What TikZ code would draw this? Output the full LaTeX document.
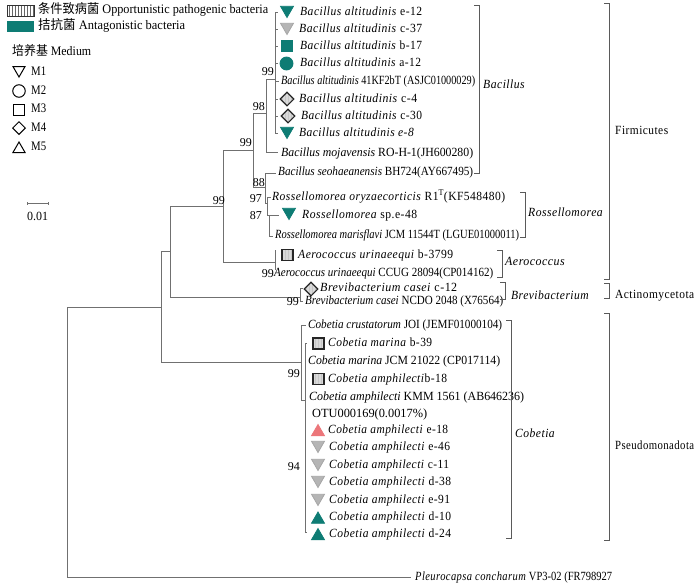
\documentclass[tikz,border=0pt]{standalone}
\usepackage{fontspec}
\setmainfont{Liberation Serif}
\newfontfamily\spc[LetterSpace=4]{Liberation Serif}
\newfontfamily\cjk{Noto Sans CJK SC}
\usepackage{graphicx}
\usetikzlibrary{shapes.geometric,patterns}
\definecolor{tealc}{RGB}{14,124,116}
\definecolor{pinkc}{RGB}{236,118,122}
\definecolor{linec}{RGB}{112,112,112}
\definecolor{brkc}{RGB}{90,90,90}
\newcommand\lsp[2]{\resizebox{#1pt}{\height}{\spc #2}}
\newcommand\lcd[2]{\resizebox{#1pt}{\height}{#2}}
\begin{document}
\begin{tikzpicture}[x=1pt,y=-1pt,
  edge/.style={draw=linec,line width=0.9pt},
  brk/.style={draw=brkc,line width=0.9pt},
  lab/.style={anchor=west,inner sep=0pt,text height=9pt,text depth=2.6pt,font=\fontsize{12.5}{14}\selectfont},
  leg/.style={lab,font=\fontsize{13}{15}\selectfont},
  boot/.style={anchor=east,inner sep=0pt,text height=8.5pt,text depth=0pt,font=\fontsize{12}{14}\selectfont},
  mk/.style={inner sep=0pt,line width=0.8pt},
  tridown/.style={mk,regular polygon,regular polygon sides=3,shape border rotate=180,minimum size=15pt},
  triup/.style={mk,regular polygon,regular polygon sides=3,minimum size=15pt},
  sq/.style={mk,rectangle,minimum size=11pt},
  circ/.style={mk,circle,minimum size=13pt},
  dia/.style={mk,diamond,minimum size=14pt},
  antag/.style={fill=tealc,draw=tealc},
  oppo/.style={draw=black!85,line width=1.1pt,preaction={fill=gray!30},pattern=vertical lines,pattern color=gray!45},
  hatchgray/.style={fill=gray!58,draw=gray!70},
  pinkf/.style={fill=pinkc,draw=pinkc},
  open/.style={draw=black,line width=1pt,fill=white}]
\useasboundingbox (0,0) rectangle (700,584);
\fill[white] (0,0) rectangle (700,584);

% ---------- legend ----------
\node[draw=black!80,line width=0.8pt,pattern=vertical lines,pattern color=black!60,minimum width=27pt,minimum height=11pt,inner sep=0pt] (lg1) at (20.5,10.5) {};
\node[leg] (lt1) at (38,10.5) {\lcd{230}{{\cjk 条件致病菌} Opportunistic pathogenic bacteria}};
\node[fill=tealc,minimum width=27pt,minimum height=11pt,inner sep=0pt] (lg2) at (20.5,26.5) {};
\node[leg] (lt2) at (38,26.5) {\lcd{147}{{\cjk 拮抗菌} Antagonistic bacteria}};
\node[leg] (lt3) at (12,52) {\lcd{79}{{\cjk 培养基} Medium}};
\node[tridown,open,minimum size=14pt] (s1) at (19,70) {};
\node[leg] (sm1) at (31,72) {\lcd{15}{M1}};
\node[circ,open,minimum size=12.5pt] (s2) at (19,91) {};
\node[leg] (sm2) at (31,91) {\lcd{15}{M2}};
\node[sq,open,minimum size=11pt] (s3) at (19,109.5) {};
\node[leg] (sm3) at (31,109.5) {\lcd{15}{M3}};
\node[dia,open,minimum size=13pt] (s4) at (19,128) {};
\node[leg] (sm4) at (31,128) {\lcd{15}{M4}};
\node[triup,open,minimum size=14pt] (s5) at (19,149) {};
\node[leg] (sm5) at (31,147) {\lcd{15}{M5}};

% ---------- scale bar ----------
\coordinate (sb1) at (27,203);
\coordinate (sb2) at (48,203);
\draw[edge,line width=0.7pt] (sb1) -- (sb2);
\draw[edge,line width=0.6pt] ([yshift=-1.5pt]sb1) -- ([yshift=1.5pt]sb1);
\draw[edge,line width=0.6pt] ([yshift=-1.5pt]sb2) -- ([yshift=1.5pt]sb2);
\node[lab,anchor=center] (sbl) at (37.5,217) {\lcd{21}{0.01}};

% ---------- internal nodes ----------
\coordinate (r) at (67,307);
\coordinate (nD) at (161,307);
\coordinate (nC) at (170,251);
\coordinate (nA) at (223,206);
\coordinate (nB) at (253,150);
\coordinate (n98) at (266,113);
\coordinate (n99b) at (275,79);
\coordinate (n88) at (265,187);
\coordinate (n97) at (267,203);
\coordinate (n87) at (269,215);
\coordinate (nAe) at (275,262);
\coordinate (nBr) at (300,297);
\coordinate (nCob) at (301,362);
\coordinate (n94) at (305,400);

% ---------- tips ----------
\coordinate (t1) at (278,12);
\coordinate (t2) at (278,29);
\coordinate (t3) at (278,46);
\coordinate (t4) at (278,63);
\coordinate (t5) at (279,81);
\coordinate (t6) at (278,99);
\coordinate (t7) at (278,116);
\coordinate (t8) at (278,133);
\coordinate (tm) at (278,152);
\coordinate (ts) at (276,173);
\coordinate (to) at (271,197);
\coordinate (te) at (279,215);
\coordinate (tmf) at (273,236);
\coordinate (ta1) at (275,250);
\coordinate (ta2) at (275,270);
\coordinate (tb1) at (303,288);
\coordinate (tb2) at (303,301);
\coordinate (tc1) at (306,325);
\coordinate (tc2) at (307,343);
\coordinate (tc3) at (307,532);
\coordinate (tp) at (411,577);

% ---------- branches ----------
\draw[edge] (r) -- (nD);
\draw[edge] (r) |- (tp);
\draw[edge] (nD) |- (nC);
\draw[edge] (nD) |- (nCob);
\draw[edge] (nC) |- (nA);
\draw[edge] (nC) |- (nBr);
\draw[edge] (nA) |- (nB);
\draw[edge] (nA) |- (nAe);
\draw[edge] (nB) |- (n98);
\draw[edge] (nB) |- (n88);
\draw[edge] (n98) |- (n99b);
\draw[edge] (n98) |- (tm);
\foreach \t in {t1,t2,t3,t4,t5,t6,t7,t8} \draw[edge] (n99b) |- (\t);
\draw[edge] (n88) |- (ts);
\draw[edge] (n88) |- (n97);
\draw[edge] (n97) |- (to);
\draw[edge] (n97) |- (n87);
\draw[edge] (n87) |- (te);
\draw[edge] (n87) |- (tmf);
\draw[edge] (nAe) |- (ta1);
\draw[edge] (nAe) |- (ta2);
\draw[edge] (nBr) |- (tb1);
\draw[edge] (nBr) |- (tb2);
\draw[edge] (nCob) |- (tc1);
\draw[edge] (nCob) |- (n94);
\draw[edge] (n94) |- (tc2);
\draw[edge] (n94) |- (tc3);

% ---------- bootstrap values ----------
\node[boot] (b1) at (274,71) {99};
\node[boot] (b2) at (265,106) {98};
\node[boot] (b3) at (252,142) {99};
\node[boot] (b4) at (265,182) {88};
\node[boot] (b5) at (262,198) {97};
\node[boot] (b6) at (262,215) {87};
\node[boot] (b7) at (225,200) {99};
\node[boot] (b8) at (274,273) {99};
\node[boot] (b9) at (299,301) {99};
\node[boot] (b10) at (300,373) {99};
\node[boot] (b11) at (300,466) {94};

% ---------- Bacillus leaves ----------
\node[tridown,antag] (m1) at (287,10) {};
\node[lab] (l1) at (300,12) {\lsp{122}{\textit{Bacillus altitudinis} e-12}};
\node[tridown,hatchgray] (m2) at (287,27) {};
\node[lab] (l2) at (299,29) {\lsp{123}{\textit{Bacillus altitudinis} c-37}};
\node[sq,antag] (m3) at (286.5,45.5) {};
\node[lab] (l3) at (300,46) {\lsp{122}{\textit{Bacillus altitudinis} b-17}};
\node[circ,antag] (m4) at (286.5,63.5) {};
\node[lab] (l4) at (300,63) {\lsp{121}{\textit{Bacillus altitudinis} a-12}};
\node[lab] (l5) at (281,81) {\lcd{194}{\textit{Bacillus altitudinis} 41KF2bT (ASJC01000029)}};
\node[dia,oppo] (m6) at (287,99) {};
\node[lab] (l6) at (299,99) {\lsp{118}{\textit{Bacillus altitudinis} c-4}};
\node[dia,oppo] (m7) at (288,116) {};
\node[lab] (l7) at (301,116) {\lsp{121}{\textit{Bacillus altitudinis} c-30}};
\node[tridown,antag] (m8) at (287,131) {};
\node[lab] (l8) at (299,133) {\lsp{115}{\textit{Bacillus altitudinis e-8}}};
\node[lab] (l9) at (281,153) {\lcd{192}{\textit{Bacillus mojavensis} RO-H-1(JH600280)}};
\node[lab] (l10) at (278,172) {\lcd{195}{\textit{Bacillus seohaeanensis} BH724(AY667495)}};

% ---------- Rossellomorea / Aerococcus / Brevibacterium ----------
\node[lab] (l11) at (272,197) {\lsp{233}{\textit{Rossellomorea oryzaecorticis} R1\textsuperscript{T}(KF548480)}};
\node[tridown,antag] (m12) at (289,212) {};
\node[lab] (l12) at (302,215) {\lsp{115}{\textit{Rossellomorea} sp.e-48}};
\node[lab] (l13) at (275,235) {\lcd{244}{\textit{Rossellomorea marisflavi} JCM 11544T (LGUE01000011)}};
\node[sq,oppo] (m14) at (287.5,255) {};
\node[lab] (l14) at (298,255) {\lsp{155}{\textit{Aerococcus urinaeequi} b-3799}};
\node[lab] (l15) at (274,273) {\lcd{219}{\textit{Aerococcus urinaeequi} CCUG 28094(CP014162)}};
\node[dia,oppo] (m16) at (311,289) {};
\node[lab] (l16) at (320,288) {\lsp{137}{\textit{Brevibacterium casei} c-12}};
\node[lab] (l17) at (305,301) {\lcd{198}{\textit{Brevibacterium casei} NCDO 2048 (X76564)}};

% ---------- Cobetia ----------
\node[lab] (l18) at (308,325) {\lcd{194}{\textit{Cobetia crustatorum} JOI (JEMF01000104)}};
\node[sq,oppo] (m19) at (318.5,343.5) {};
\node[lab] (l19) at (328,343) {\lsp{104}{\textit{Cobetia marina} b-39}};
\node[lab] (l20) at (308,361) {\lcd{192}{\textit{Cobetia marina} JCM 21022 (CP017114)}};
\node[sq,oppo] (m21) at (318.5,379) {};
\node[lab] (l21) at (328,379) {\lsp{119}{\textit{Cobetia amphilecti}b-18}};
\node[lab] (l22) at (309,397) {\lcd{215}{\textit{Cobetia amphilecti} KMM 1561 (AB646236)}};
\node[lab] (l23) at (312,414) {\lcd{115}{OTU000169(0.0017\%)}};
\node[triup,pinkf] (m24) at (318,432) {};
\node[lab] (l24) at (328,430) {\lsp{120}{\textit{Cobetia amphilecti} e-18}};
\node[tridown,hatchgray] (m25) at (318,445) {};
\node[lab] (l25) at (329,447) {\lsp{121}{\textit{Cobetia amphilecti} e-46}};
\node[tridown,hatchgray] (m26) at (318,463) {};
\node[lab] (l26) at (329,465) {\lsp{120}{\textit{Cobetia amphilecti} c-11}};
\node[tridown,hatchgray] (m27) at (318,480) {};
\node[lab] (l27) at (329,482) {\lsp{122}{\textit{Cobetia amphilecti} d-38}};
\node[tridown,hatchgray] (m28) at (318,498) {};
\node[lab] (l28) at (329,500) {\lsp{121}{\textit{Cobetia amphilecti} e-91}};
\node[triup,antag] (m29) at (318,519.5) {};
\node[lab] (l29) at (329,517) {\lsp{122}{\textit{Cobetia amphilecti} d-10}};
\node[triup,antag] (m30) at (318,536) {};
\node[lab] (l30) at (329,534) {\lsp{122}{\textit{Cobetia amphilecti} d-24}};

% ---------- outgroup ----------
\node[lab] (l31) at (415,577) {\lcd{197}{{\spc\textit{Pleurocapsa concharum}} VP3-02 (FR798927}};

% ---------- brackets ----------
\draw[brk] (474,5) -- (479,5) -- (479,173) -- (474,173);
\draw[brk] (520,192) -- (525,192) -- (525,237) -- (520,237);
\draw[brk] (497,250) -- (502,250) -- (502,277) -- (497,277);
\draw[brk] (500,282) -- (505,282) -- (505,299) -- (500,299);
\draw[brk] (506,320) -- (511,320) -- (511,538) -- (506,538);
\draw[brk] (604,3) -- (609,3) -- (609,279) -- (604,279);
\draw[brk] (604,283) -- (609,283) -- (609,298) -- (604,298);
\draw[brk] (604,313) -- (609,313) -- (609,540) -- (604,540);

\node[lab] (g1) at (483,85) {\lsp{42}{\textit{Bacillus}}};
\node[lab] (g2) at (528,213) {\lsp{75}{\textit{Rossellomorea}}};
\node[lab] (g3) at (505,262) {\lsp{60}{\textit{Aerococcus}}};
\node[lab] (g4) at (511,296) {\lsp{78}{\textit{Brevibacterium}}};
\node[lab] (g5) at (515,434) {\lsp{40}{\textit{Cobetia}}};
\node[lab] (p1) at (615,131) {\lsp{53}{Firmicutes}};
\node[lab] (p2) at (615,295) {\lsp{79}{Actinomycetota}};
\node[lab] (p3) at (615,446) {\lsp{79}{Pseudomonadota}};
\end{tikzpicture}
\end{document}
